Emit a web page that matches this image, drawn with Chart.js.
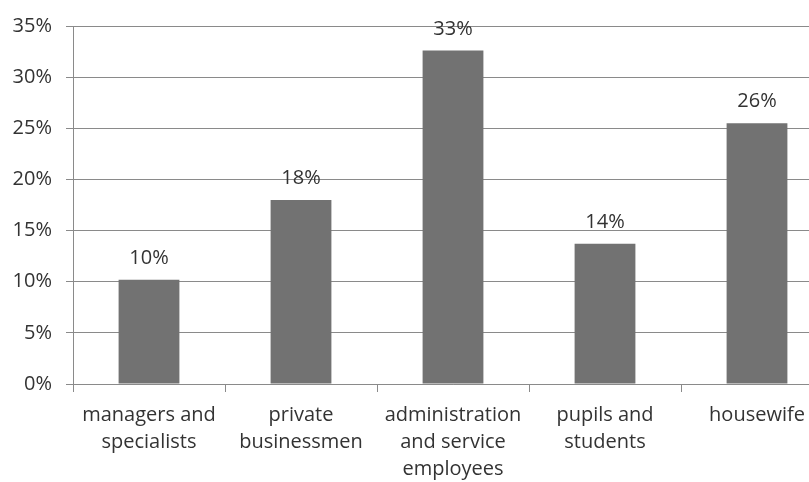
<!DOCTYPE html>
<html>
<head>
<meta charset="utf-8">
<script src="https://cdn.jsdelivr.net/npm/chart.js@4/dist/chart.umd.min.js"></script>
<style>
  html, body { margin: 0; padding: 0; background: #ffffff; overflow: hidden; }
  #wrap { width: 840px; height: 482px; }
</style>
</head>
<body>
<div id="wrap"><canvas id="c" width="840" height="482"></canvas></div>
<script>
const categories = [
  ['managers and', 'specialists'],
  ['private', 'businessmen'],
  ['administration', 'and service', 'employees'],
  ['pupils and', 'students'],
  ['housewife']
];
const shares = [10.2, 18.0, 32.6, 13.7, 25.5];
const shareLabels = ['10%', '18%', '33%', '14%', '26%'];
const yTicks = [0, 5, 10, 15, 20, 25, 30, 35];

const FONT = "'Open Sans', 'Noto Sans', sans-serif";
const TEXT = '#333333';
const GRID = '#8a8a8a';

const valueLabelPlugin = {
  id: 'valueLabels',
  afterDatasetsDraw(chart) {
    const ctx = chart.ctx;
    const meta = chart.getDatasetMeta(0);
    ctx.save();
    ctx.font = '20px ' + FONT;
    ctx.fillStyle = TEXT;
    ctx.textAlign = 'center';
    ctx.textBaseline = 'alphabetic';
    meta.data.forEach((bar, i) => {
      ctx.fillText(shareLabels[i], bar.x, bar.y - 16);
    });
    ctx.restore();
  }
};

new Chart(document.getElementById('c'), {
  type: 'bar',
  data: {
    labels: categories,
    datasets: [{
      data: shares,
      backgroundColor: '#727272',
      borderWidth: 0,
      barPercentage: 1,
      categoryPercentage: 0.4
    }]
  },
  options: {
    responsive: false,
    animation: false,
    devicePixelRatio: 1,
    layout: { padding: { top: 22, right: 7, bottom: 0, left: 0 } },
    plugins: { legend: { display: false }, tooltip: { enabled: false } },
    scales: {
      x: {
        offset: true,
        grid: { display: true, drawOnChartArea: false, drawTicks: true, tickLength: 8, color: GRID, offset: true },
        border: { display: true, color: GRID, width: 1 },
        ticks: {
          color: TEXT,
          padding: 10,
          maxRotation: 0,
          autoSkip: false,
          font: { family: FONT, size: 20, lineHeight: 1.35 }
        },
        afterFit(scale) { scale.height = 98; }
      },
      y: {
        min: 0,
        max: 35,
        afterBuildTicks(scale) { scale.ticks = yTicks.map(v => ({ value: v })); },
        grid: { color: GRID, tickLength: 7, drawTicks: true },
        border: { display: true, color: GRID, width: 1 },
        ticks: {
          color: TEXT,
          padding: 14,
          font: { family: FONT, size: 20 },
          callback: (v) => v + '%'
        },
        afterFit(scale) { scale.width = 73; }
      }
    }
  },
  plugins: [valueLabelPlugin]
});
</script>
</body>
</html>
